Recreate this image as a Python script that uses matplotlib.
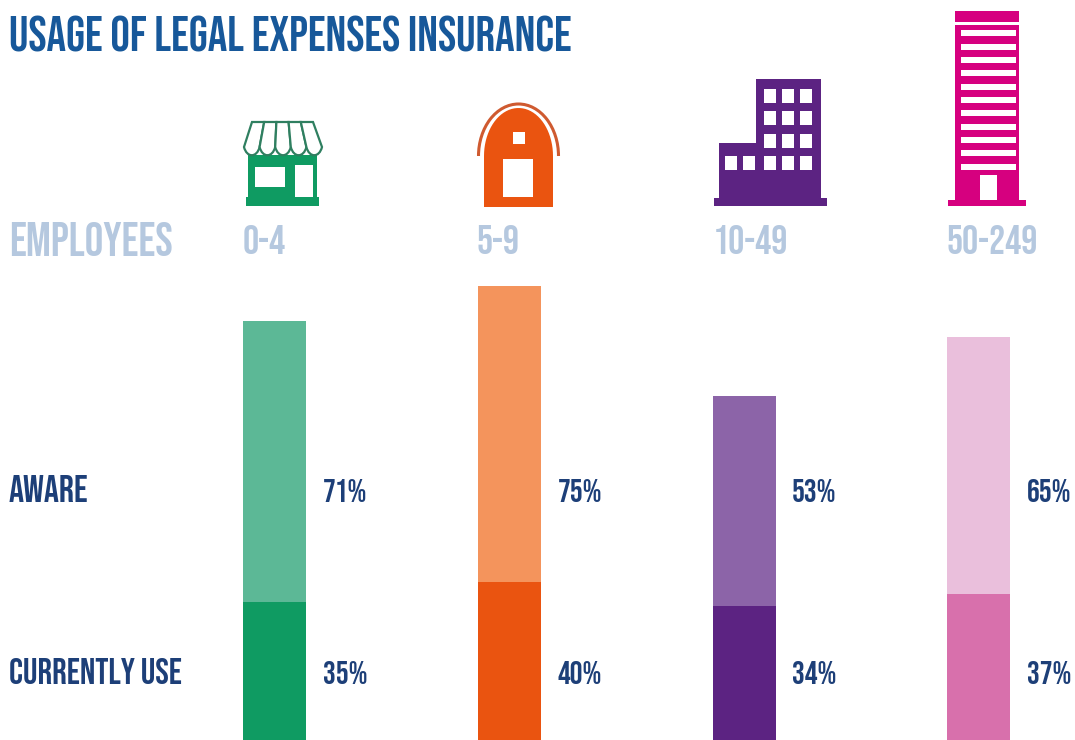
#!/usr/bin/env python3
"""Usage of legal expenses insurance by business size, with drawn icons."""

import matplotlib
matplotlib.use("Agg")
import matplotlib.pyplot as plt
import numpy as np
from matplotlib.patches import Arc, PathPatch, Polygon, Rectangle
from matplotlib.path import Path

plt.rcParams['font.family'] = ['Bebas Neue', 'League Gothic', 'Oswald', 'Liberation Sans', 'DejaVu Sans']

# Data
employee_bands = ['0-4', '5-9', '10-49', '50-249']
aware = [71, 75, 53, 65]
currently_use = [35, 40, 34, 37]

aware_colors = ['#5cb896', '#f4945c', '#8c64a8', '#eabfdc']
use_colors = ['#0f9b62', '#ea5410', '#5c2382', '#d870ac']

TITLE = '#17589a'
PALE = '#b5c8df'
NAVY = '#1d3f78'

fig = plt.figure(figsize=(10.75, 7.40), dpi=100)

# Bars run off the bottom edge, 3.95 px for each percentage point
ax = fig.add_axes([0, 0, 1, 1])
ax.set_xlim(0, 1075)
ax.set_ylim(0, 740 / 3.95)
ax.axis('off')

bar_x = [274.5, 509, 744, 978.5]
ax.bar(bar_x, currently_use, width=63, color=use_colors)
ax.bar(bar_x, aware, width=63, bottom=currently_use, color=aware_colors)

# Overlay in image pixels for text and icons
ov = fig.add_axes([0, 0, 1, 1])
ov.set_xlim(0, 1075)
ov.set_ylim(740, 0)
ov.axis('off')
ov.patch.set_alpha(0)


def box(x0, y0, x1, y1, color):
    ov.add_patch(Rectangle((x0, y0), x1 - x0, y1 - y0, facecolor=color, edgecolor='none'))


# Shop
GREEN = '#0f9b62'
box(248, 155, 317, 199, GREEN)
box(246, 197, 319, 206, GREEN)
box(255, 167, 285, 187, 'white')
box(295, 165, 313, 197, 'white')
tops = np.linspace(252, 313, 6)
bottoms = np.linspace(244, 322, 6)
for i in range(5):
    mid = (bottoms[i] + bottoms[i + 1]) / 2
    verts = [(tops[i], 122), (tops[i + 1], 122), (bottoms[i + 1], 147),
             (mid + 5, 158), (mid - 5, 158), (bottoms[i], 147), (tops[i], 122)]
    codes = [Path.MOVETO, Path.LINETO, Path.LINETO, Path.CURVE4, Path.CURVE4, Path.CURVE4, Path.CLOSEPOLY]
    ov.add_patch(PathPatch(Path(verts, codes), facecolor='white', edgecolor='#2f7f60', linewidth=1.6))

# Barn
ORANGE = '#ea5410'
roof = [(518.5 + 34.5 * np.cos(t), 156 - 48 * np.sin(t)) for t in np.linspace(0, np.pi, 40)]
ov.add_patch(Polygon([(553, 207)] + roof + [(484, 207)], closed=True, facecolor=ORANGE, edgecolor='none'))
ov.add_patch(Arc((518.5, 156), 80, 104, theta1=180, theta2=360, edgecolor='#cf5a30', linewidth=2.2))
box(513, 132, 525, 144, 'white')
box(503, 159, 533, 197, 'white')

# Office block
PURPLE = '#5c2382'
box(756, 79, 821, 200, PURPLE)
box(719, 143, 756, 200, PURPLE)
box(714, 198, 827, 206, PURPLE)
for wx in [770, 788, 806]:
    for wy in [96, 118, 141, 163]:
        box(wx - 6, wy - 7, wx + 6, wy + 7, 'white')
for wx in [731, 749]:
    box(wx - 6, 156, wx + 6, 170, 'white')

# Tower
PINK = '#d6007f'
box(955, 11, 1019, 22, PINK)
box(955, 25, 1019, 202, PINK)
box(948, 200, 1026, 206, PINK)
for sy in [33, 47, 60, 73, 87, 100, 113, 127, 140, 153, 167]:
    box(961, sy - 3, 1016, sy + 3, 'white')
box(980, 175, 997, 200, 'white')

# Text
ov.text(9, 34, 'USAGE OF LEGAL EXPENSES INSURANCE', color=TITLE, fontsize=35, va='center', ha='left')
ov.text(9, 239, 'EMPLOYEES', color=PALE, fontsize=33.5, va='center', ha='left')
ov.text(9, 488, 'AWARE', color=NAVY, fontsize=27, va='center', ha='left')
ov.text(9, 671, 'CURRENTLY USE', color=NAVY, fontsize=26, va='center', ha='left')

band_x = [243, 477, 713, 947]
pct_x = [323, 558, 792, 1027]
for bx, px, band, a, u in zip(band_x, pct_x, employee_bands, aware, currently_use):
    ov.text(bx, 239, band, color=PALE, fontsize=29, va='center', ha='left')
    ov.text(px, 491, f'{a}%', color=NAVY, fontsize=23, va='center', ha='left')
    ov.text(px, 673, f'{u}%', color=NAVY, fontsize=23, va='center', ha='left')

plt.savefig('out.png', dpi=100)
